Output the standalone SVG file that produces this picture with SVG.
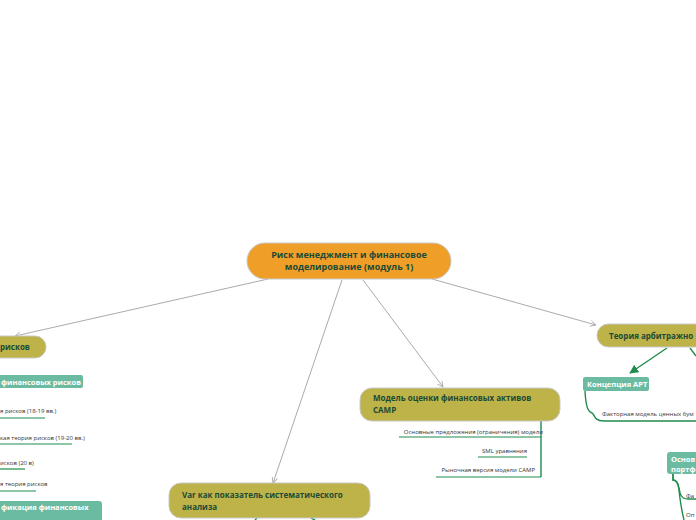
<svg xmlns="http://www.w3.org/2000/svg" width="696" height="520" viewBox="0 0 696 520">
<style>
.main{fill:#EF9E28;stroke:#C8C8C8;stroke-width:1}
.topic{fill:#BDB348;stroke:#C8C8C8;stroke-width:1}
.teal{fill:#6BBBA3}
.tt{font-family:"Open Sans","Noto Sans",sans-serif;font-weight:bold;font-size:8px;fill:#1B4A36}
.mt{font-family:"Open Sans","Noto Sans",sans-serif;font-weight:bold;font-size:9px;fill:#1B4A36}
.wt{font-family:"Open Sans","Noto Sans",sans-serif;font-weight:bold;font-size:7.5px;fill:#FFFFFF}
.st{font-family:"Open Sans","Noto Sans",sans-serif;font-size:6px;fill:#333333}
.conn{fill:none;stroke:#ABABAB;stroke-width:1}
.g{fill:none;stroke:#1F8C4E;stroke-width:1.4}
.gu{fill:none;stroke:#1F8C4E;stroke-width:1.2}
</style>
<defs>
<marker id="ga" viewBox="0 0 10 10" refX="9" refY="5" markerWidth="7" markerHeight="7" orient="auto-start-reverse" markerUnits="userSpaceOnUse">
<path d="M1,1 L9,5 L1,9" fill="none" stroke="#ABABAB" stroke-width="1.3"/>
</marker>
<marker id="gr" viewBox="0 0 10 10" refX="9" refY="5" markerWidth="9" markerHeight="9" orient="auto" markerUnits="userSpaceOnUse">
<path d="M0,0 L10,5 L0,10 Z" fill="#1F8C4E"/>
</marker>
</defs>
<rect width="696" height="520" fill="#FFFFFF"/>
<g id="connectors">
<line class="conn" x1="268" y1="279" x2="15" y2="336" marker-end="url(#ga)"/>
<line class="conn" x1="342" y1="280" x2="273" y2="483" marker-end="url(#ga)"/>
<line class="conn" x1="363" y1="280" x2="443" y2="387" marker-end="url(#ga)"/>
<line class="conn" x1="432" y1="279" x2="596" y2="325" marker-end="url(#ga)"/>
<line class="g" x1="667" y1="348" x2="630" y2="373" marker-end="url(#gr)"/>
<path class="g" d="M690,348 L696,356"/>
<path class="g" d="M585,391 C586,410 589,412 592,413 C595,414 593,421 604,421 L696,421"/>
<path class="g" d="M673,474 L673,480 C676,480 678,482 679,488 C680,494 681,499 688,499 L696,499"/>
<path class="g" d="M673,474 L673,480 C676,480 678,482 679,490 C680,500 682,512 684,520"/>
<path class="g" d="M541,421 L541,477"/>
<path class="gu" d="M399,437 L541,437"/>
<path class="gu" d="M478,457 L527,457"/>
<path class="gu" d="M436,477 L541,477"/>
<path class="gu" d="M0,418 L45,418"/>
<path class="gu" d="M0,444 L72,444"/>
<path class="gu" d="M0,469 L25,469"/>
<path class="gu" d="M0,491 L36,491"/>
<path class="g" d="M257,518 L255,520"/>
<path class="g" d="M311,518 L315,520"/>
</g>
<g id="main">
<rect class="main" x="247" y="243" width="204" height="36" rx="18"/>
<text class="mt" x="349" y="258" text-anchor="middle">Риск менеджмент и финансовое</text>
<text class="mt" x="349" y="270" text-anchor="middle">моделирование (модуль 1)</text>
</g>
<g id="left-topic">
<rect class="topic" x="-30" y="336" width="76" height="22" rx="11"/>
<text class="tt" x="0" y="350">рисков</text>
</g>
<g id="left-label">
<rect class="teal" x="-10" y="375" width="93" height="13" rx="2"/>
<text class="wt" x="1" y="384.5">финансовых рисков</text>
</g>
<g id="left-items">
<text class="st" x="0" y="413">я рисков (18-19 вв.)</text>
<text class="st" x="0" y="440">кая теория рисков (19-20 вв.)</text>
<text class="st" x="0" y="465">исков (20 в)</text>
<text class="st" x="0" y="486">я теория рисков</text>
</g>
<g id="left-label2">
<rect class="teal" x="-10" y="501" width="112" height="22" rx="3"/>
<text class="wt" x="1" y="510">фикация финансовых</text>
</g>
<g id="var">
<rect class="topic" x="169" y="483" width="201" height="35" rx="12"/>
<text class="tt" x="182" y="498">Var как показатель систематического</text>
<text class="tt" x="182" y="510">анализа</text>
</g>
<g id="camp">
<rect class="topic" x="360" y="388" width="200" height="33" rx="12"/>
<text class="tt" x="373" y="401">Модель оценки финансовых активов</text>
<text class="tt" x="373" y="413">CAMP</text>
<text class="st" x="543" y="434" text-anchor="end">Основные предложения (ограничения) модели</text>
<text class="st" x="527" y="453" text-anchor="end">SML уравнения</text>
<text class="st" x="535" y="472" text-anchor="end">Рыночная версия модели CAMP</text>
</g>
<g id="apt">
<rect class="topic" x="597" y="324" width="130" height="23" rx="11.5"/>
<text class="tt" x="609" y="339">Теория арбитражно</text>
</g>
<g id="apt-concept">
<rect class="teal" x="583" y="377" width="66" height="14" rx="2"/>
<text class="wt" x="587" y="387">Концепция APT</text>
<text class="st" x="602" y="416">Факторная модель ценных бум</text>
</g>
<g id="portfolio">
<rect class="teal" x="667" y="452" width="40" height="22" rx="3"/>
<text class="wt" x="671" y="462">Основ</text>
<text class="wt" x="671" y="472">портф</text>
<text class="st" x="686" y="498">Фа</text>
<text class="st" x="686" y="517">Оп</text>
</g>
</svg>
